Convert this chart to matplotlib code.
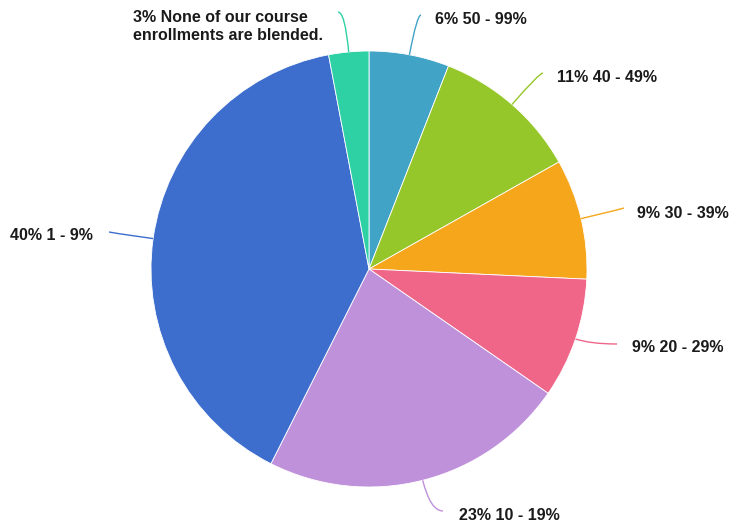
import numpy as np
import matplotlib.pyplot as plt
from matplotlib.path import Path
from matplotlib.patches import PathPatch

plt.rcParams['font.family'] = ['Liberation Sans', 'DejaVu Sans']

labels = ['50 - 99%', '40 - 49%', '30 - 39%', '20 - 29%', '10 - 19%', '1 - 9%',
          'None of our course\nenrollments are blended.']
pcts = [6, 11, 9, 9, 23, 40, 3]
colors = ['#41A3C6', '#96C72A', '#F5A61B', '#EF6689', '#BF91DB', '#3D6ECE', '#2DD1A4']

# label layout in pixel coords (y from top): line end, text anchor, alignment
W, H = 730, 527
line_end = [(421, 15), (543, 73), (624, 208), (617, 344), (443, 511), (109, 232), (338, 12)]
text_pos = [(435, 20), (557, 78), (637, 213), (632, 348), (459, 515), (93, 236), (133, 27)]
text_ha = ['left', 'left', 'left', 'left', 'left', 'right', 'left']

cx, cy, R = 369, 269, 218

fig = plt.figure(figsize=(W / 100, H / 100), dpi=100)
ax = fig.add_axes([0, 0, 1, 1])
wedges, _ = ax.pie(pcts, colors=colors, startangle=90, counterclock=False,
                   center=(cx, H - cy), radius=R,
                   wedgeprops=dict(edgecolor='white', linewidth=0.6))
ax.set_xlim(0, W)
ax.set_ylim(0, H)
ax.set_aspect('equal')
ax.axis('off')

for w, col, lab, p, end, tp, ha in zip(wedges, colors, labels, pcts, line_end, text_pos, text_ha):
    mid = np.deg2rad((w.theta1 + w.theta2) / 2)
    dx, dy = np.cos(mid), np.sin(mid)
    x0, y0 = cx + R * dx, (H - cy) + R * dy
    ex, ey = end[0], H - end[1]
    # control point: radial line meets the horizontal through the line end
    t = (ey - y0) / dy if abs(dy) > 1e-6 else 0
    ctrl = (x0 + t * dx, ey)
    path = Path([(x0, y0), ctrl, (ex, ey)], [Path.MOVETO, Path.CURVE3, Path.CURVE3])
    ax.add_patch(PathPatch(path, fill=False, edgecolor=col, linewidth=1.0))
    ax.text(tp[0], H - tp[1], f'{p}% {lab}', ha=ha, va='center',
            fontsize=11.5, fontweight='bold', color='#1a1a1a', linespacing=1.25)

fig.savefig('out.png', dpi=100, facecolor='white')
